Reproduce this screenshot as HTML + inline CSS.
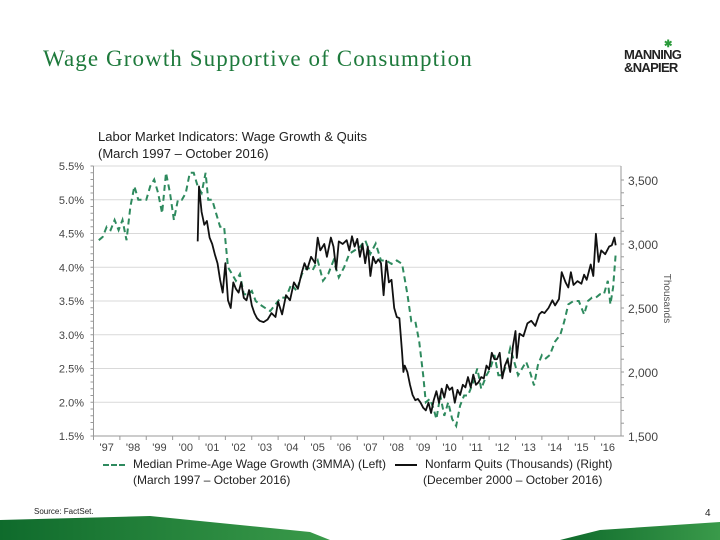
<!DOCTYPE html>
<html><head><meta charset="utf-8"><style>
body{margin:0;width:720px;height:540px;overflow:hidden;background:#fff;font-family:"Liberation Sans",sans-serif;position:relative}
.t{position:absolute;white-space:nowrap}
</style></head><body>
<div class="t" style="left:43px;top:46px;font-family:'Liberation Serif',serif;font-size:23px;letter-spacing:1.1px;color:#1e7a3c">Wage Growth Supportive of Consumption</div>
<div style="position:absolute;left:624px;top:41px;width:68px;height:34px;font-weight:bold;font-size:13px;line-height:13px;color:#222;letter-spacing:-0.7px">
<div style="position:absolute;left:40px;top:-3px;color:#2a9a3a;font-size:10px">✱</div>
<div style="position:absolute;top:7px">MANNING</div><div style="position:absolute;top:20px">&amp;NAPIER</div></div>
<div class="t" style="left:98px;top:128px;font-size:13px;line-height:17px;color:#222">Labor Market Indicators: Wage Growth &amp; Quits<br>(March 1997 – October 2016)</div>
<svg width="720" height="540" style="position:absolute;left:0;top:0">
<g id="grid"></g><g id="axes"></g><g id="series"></g>
<defs><linearGradient id="gg" x1="0" x2="1"><stop offset="0" stop-color="#0f6b2c"/><stop offset="1" stop-color="#3a9a4a"/></linearGradient></defs>
<polygon points="0,520 150,516 310,532 330,540 0,540" fill="url(#gg)"/>
<polygon points="560,540 600,530 720,522 720,540" fill="url(#gg)"/>
</svg>
<div class="t" style="left:103px;top:457px;font-size:12px;color:#222"><span style="display:inline-block;width:22px;border-top:2px dashed #2e8a5e;vertical-align:middle;margin-right:8px"></span>Median Prime-Age Wage Growth (3MMA) (Left)</div>
<div class="t" style="left:395px;top:457px;font-size:12px;color:#222"><span style="display:inline-block;width:22px;border-top:2px solid #111;vertical-align:middle;margin-right:8px"></span>Nonfarm Quits (Thousands) (Right)</div>
<div class="t" style="left:133px;top:473px;font-size:12px;color:#222">(March 1997 – October 2016)</div>
<div class="t" style="left:423px;top:473px;font-size:12px;color:#222">(December 2000 – October 2016)</div>
<div class="t" style="left:642px;top:293px;font-size:10px;color:#555;transform:rotate(90deg)">Thousands</div>
<div class="t" style="left:34px;top:507px;font-size:8px;color:#222">Source: FactSet.</div>
<div class="t" style="left:705px;top:508px;font-size:10px;color:#222">4</div>
<script>
const leftTicks=[1.5,2.0,2.5,3.0,3.5,4.0,4.5,5.0,5.5];
const rightTicks=[1500,2000,2500,3000,3500];
const yearLabels=["'97","'98","'99","'00","'01","'02","'03","'04","'05","'06","'07","'08","'09","'10","'11","'12","'13","'14","'15","'16"];
const wageDates=[1997.2,1997.35,1997.5,1997.65,1997.8,1997.95,1998.1,1998.25,1998.4,1998.55,1998.7,1998.85,1999.0,1999.15,1999.3,1999.45,1999.6,1999.75,1999.9,2000.05,2000.2,2000.35,2000.5,2000.65,2000.8,2000.95,2001.1,2001.25,2001.35,2001.5,2001.65,2001.8,2001.95,2002.1,2002.25,2002.4,2002.55,2002.7,2002.85,2003.0,2003.15,2003.3,2003.5,2003.7,2003.9,2004.1,2004.3,2004.5,2004.7,2004.9,2005.1,2005.3,2005.5,2005.7,2005.9,2006.1,2006.3,2006.5,2006.7,2006.9,2007.1,2007.3,2007.5,2007.7,2007.9,2008.1,2008.3,2008.5,2008.7,2008.9,2009.05,2009.2,2009.35,2009.5,2009.6,2009.75,2009.9,2010.0,2010.15,2010.3,2010.45,2010.6,2010.75,2010.9,2011.05,2011.2,2011.4,2011.55,2011.7,2011.9,2012.05,2012.2,2012.35,2012.5,2012.65,2012.8,2012.95,2013.1,2013.25,2013.4,2013.55,2013.7,2013.85,2014.0,2014.15,2014.3,2014.5,2014.7,2014.85,2015.0,2015.2,2015.4,2015.6,2015.75,2015.9,2016.05,2016.2,2016.35,2016.5,2016.6,2016.7,2016.8];
const wageValues=[4.40,4.45,4.60,4.55,4.70,4.55,4.70,4.40,4.90,5.20,5.00,5.00,5.00,5.20,5.30,5.10,4.80,5.40,5.10,4.70,5.00,5.00,5.10,5.40,5.40,5.20,5.10,5.40,5.00,5.00,4.80,4.60,4.60,4.00,3.90,3.80,3.90,3.60,3.60,3.65,3.50,3.45,3.40,3.35,3.45,3.55,3.55,3.75,3.65,3.90,4.00,3.95,4.10,3.80,3.90,4.10,3.85,4.00,4.20,4.25,4.30,4.40,4.20,4.35,4.10,4.10,4.05,4.10,4.05,3.60,3.20,3.20,2.90,2.40,2.00,2.05,1.90,1.75,2.10,1.80,2.00,1.75,1.65,1.95,2.10,2.10,2.30,2.50,2.20,2.40,2.50,2.70,2.40,2.40,2.55,2.80,2.60,2.40,2.50,2.60,2.45,2.25,2.55,2.70,2.65,2.70,2.90,3.00,3.20,3.45,3.50,3.50,3.30,3.50,3.55,3.55,3.60,3.60,3.80,3.45,3.70,4.20];
const quitDates=[2000.95,2001.0,2001.1,2001.2,2001.3,2001.4,2001.5,2001.6,2001.7,2001.8,2001.9,2002.0,2002.1,2002.2,2002.3,2002.4,2002.5,2002.6,2002.7,2002.8,2002.9,2003.0,2003.1,2003.2,2003.3,2003.45,2003.6,2003.75,2003.9,2004.0,2004.15,2004.3,2004.45,2004.6,2004.75,2004.9,2005.0,2005.1,2005.25,2005.4,2005.5,2005.6,2005.75,2005.85,2006.0,2006.1,2006.2,2006.3,2006.45,2006.6,2006.7,2006.8,2006.9,2007.0,2007.1,2007.2,2007.3,2007.4,2007.5,2007.6,2007.7,2007.8,2007.9,2008.0,2008.1,2008.2,2008.3,2008.4,2008.5,2008.6,2008.7,2008.75,2008.8,2008.9,2009.0,2009.1,2009.2,2009.3,2009.4,2009.5,2009.6,2009.7,2009.8,2009.9,2010.0,2010.1,2010.2,2010.3,2010.4,2010.5,2010.6,2010.7,2010.8,2010.9,2011.0,2011.1,2011.2,2011.3,2011.4,2011.5,2011.6,2011.7,2011.8,2011.9,2012.0,2012.1,2012.2,2012.3,2012.4,2012.5,2012.6,2012.7,2012.8,2012.9,2013.0,2013.05,2013.15,2013.3,2013.45,2013.6,2013.75,2013.9,2014.0,2014.1,2014.25,2014.4,2014.5,2014.65,2014.75,2014.9,2015.0,2015.1,2015.2,2015.35,2015.5,2015.6,2015.7,2015.85,2015.95,2016.05,2016.15,2016.25,2016.4,2016.55,2016.65,2016.75,2016.8];
const quitValues=[3020,3450,3250,3150,3180,3050,3000,2920,2850,2720,2620,2850,2560,2500,2700,2650,2620,2700,2580,2560,2640,2520,2460,2420,2400,2390,2410,2460,2430,2550,2450,2600,2560,2700,2650,2780,2850,2800,2900,2850,3050,2950,3000,2900,3050,2980,2800,3020,3000,3030,2950,3060,2980,3040,2900,3000,2850,2980,2750,2900,2850,2880,2850,2600,2870,2700,2720,2500,2430,2420,2150,2000,2050,2000,1900,1820,1780,1790,1760,1720,1700,1760,1680,1780,1850,1760,1870,1800,1900,1860,1880,1760,1860,1820,1900,1880,1960,1880,1980,1900,1920,1960,1950,2050,2020,2150,2100,2100,2150,1950,2050,2100,2000,2200,2320,2110,2300,2280,2380,2400,2360,2450,2470,2460,2500,2560,2520,2570,2780,2700,2660,2780,2680,2710,2690,2760,2720,2840,2750,3080,2860,2950,2920,2980,2990,3050,2990];
const NS="http://www.w3.org/2000/svg";
const X0=93.5,X1=621,Y0=166,Y1=436;
const xS=t=>X0+(t-1997)*(X1-X0)/20;
const yL=v=>Y1-(v-1.5)*(Y1-Y0)/4;
const yR=v=>436-(v-1500)*0.128;
function mk(tag,at,parent){const e=document.createElementNS(NS,tag);for(const k in at)e.setAttribute(k,at[k]);document.getElementById(parent).appendChild(e);return e;}
leftTicks.forEach(v=>{
 const g=mk('line',{x1:X0,x2:X1,y1:yL(v),y2:yL(v),stroke:v===1.5?'#999':'#d9d9d9','stroke-width':1},'grid');
 
 
 const t=mk('text',{x:84,y:yL(v)+4,'text-anchor':'end','font-size':11,fill:'#444','font-family':'Liberation Sans'},'axes');
 t.textContent=v.toFixed(1)+'%';
 
 
});
rightTicks.forEach(v=>{
 const t=mk('text',{x:628,y:yR(v)+5,'font-size':12,fill:'#444','font-family':'Liberation Sans'},'axes');
 t.textContent=v.toLocaleString('en-US');
 
 
});
mk('line',{x1:X0,x2:X0,y1:Y0,y2:Y1,stroke:'#999'},'axes');
mk('line',{x1:X1,x2:X1,y1:Y0,y2:Y1,stroke:'#999'},'axes');
for(let i=0;i<=40;i++){const y=Y0+i*(Y1-Y0)/40;mk('line',{x1:X0-3,x2:X0,y1:y,y2:y,stroke:'#999'},'axes');}
for(let i=0;i<=20;i++){const y=436-i*(500*0.128)/5;if(y>=Y0)mk('line',{x1:X1,x2:X1+3,y1:y,y2:y,stroke:'#999'},'axes');}
yearLabels.forEach((l,i)=>{
 mk('line',{x1:xS(1997+i),x2:xS(1997+i),y1:Y1,y2:Y1+4,stroke:'#999'},'axes');
 const t=mk('text',{x:xS(1997.5+i),y:451,'text-anchor':'middle','font-size':11,fill:'#444','font-family':'Liberation Sans'},'axes');
 t.textContent=l;
 
 
});
const wp=mk('polyline',{points:wageDates.map((d,i)=>xS(d).toFixed(1)+','+yL(wageValues[i]).toFixed(1)).join(' '),fill:'none',stroke:'#2e8a5e','stroke-width':2,'stroke-dasharray':'6,4'},'series');


const qp=mk('polyline',{points:quitDates.map((d,i)=>xS(d).toFixed(1)+','+yR(quitValues[i]).toFixed(1)).join(' '),fill:'none',stroke:'#111','stroke-width':1.8,'stroke-linejoin':'round'},'series');


</script>
</body></html>
